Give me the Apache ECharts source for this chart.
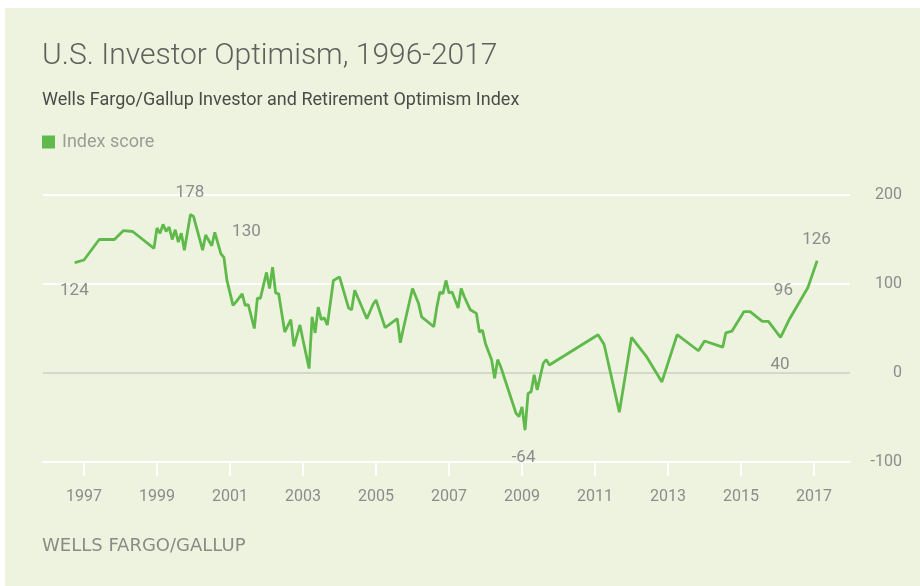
<!DOCTYPE html>
<html>
<head>
<meta charset="utf-8">
<script src="https://cdn.jsdelivr.net/npm/echarts@6/dist/echarts.min.js"></script>
<style>
html,body{margin:0;padding:0;background:#ffffff;}
#wrap{position:absolute;left:0;top:0;width:920px;height:586px;background:#ffffff;}
#chart{position:absolute;left:5px;top:8px;width:915px;height:578px;background:#edf3df;}
</style>
</head>
<body>
<div id="wrap"><div id="chart"></div></div>
<script>
// ---- data ----
var dates = [
 '1996-10','1997-01','1997-06','1997-11','1998-02','1998-05','1998-12',
 '1999-01','1999-02','1999-03','1999-04','1999-05','1999-06','1999-07','1999-08','1999-09','1999-10','1999-12',
 '2000-01','2000-04','2000-05','2000-07','2000-08','2000-10','2000-11','2000-12',
 '2001-02','2001-03','2001-05','2001-06','2001-07','2001-09','2001-10','2001-11',
 '2002-01','2002-02','2002-03','2002-04','2002-05','2002-07','2002-09','2002-10','2002-12',
 '2003-01','2003-03','2003-04','2003-05','2003-06','2003-07','2003-08','2003-09','2003-11',
 '2004-01','2004-04','2004-05','2004-06','2004-10','2004-12',
 '2005-01','2005-04','2005-08','2005-09','2005-10',
 '2006-01','2006-03','2006-04','2006-08','2006-09','2006-10','2006-11','2006-12',
 '2007-01','2007-02','2007-04','2007-05','2007-06','2007-08','2007-10','2007-11','2007-12',
 '2008-01','2008-03','2008-04','2008-05','2008-06','2008-11','2008-12',
 '2009-01','2009-02','2009-03','2009-04','2009-05','2009-06','2009-08','2009-09','2009-10',
 '2011-02','2011-04','2011-09',
 '2012-01','2012-06','2012-11',
 '2013-04','2013-11',
 '2014-01','2014-07','2014-08','2014-10',
 '2015-02','2015-04','2015-08','2015-10',
 '2016-02','2016-05','2016-11',
 '2017-02'
];
var indexScore = [
 124,127,150,150,160,159,140,
 163,157,167,159,164,150,161,147,157,138,178,
 176,138,155,143,158,134,130,104,
 76,80,89,76,77,50,84,84,
 113,95,119,90,89,46,60,30,54,
 37,5,63,45,74,60,62,54,104,
 108,73,71,93,61,77,
 82,51,61,34,50,
 95,78,63,52,74,91,89,104,
 90,91,73,95,86,71,67,46,48,
 33,15,-6,15,7,-45,-49,
 -38,-64,-23,-21,-2,-19,11,15,9,
 43,32,-44,
 40,18,-10,
 43,25,
 36,29,45,47,
 69,69,58,58,
 40,61,96,
 126
];
var labelledDates = ['1996-10','1999-12','2000-11','2009-02','2016-02','2016-11','2017-02'];
var xTickYears = [1997,1999,2001,2003,2005,2007,2009,2011,2013,2015,2017];
var seriesName = 'Index score';

// ---- styling (pixel placement of value labels relative to their point) ----
var labelPlacement = {
 '1996-10': [0, 29],
 '1999-12': [0, -21],
 '2000-11': [23, -25],
 '2009-02': [-1, 28],
 '2016-02': [0, 28],
 '2016-11': [-24, 4],
 '2017-02': [0, -21]
};

function toYear(s){
  var p = s.split('-');
  return parseInt(p[0],10) + (parseInt(p[1],10)-1)/12;
}

var LINE = '#5fba4b';
var FONT = 'Roboto';

var seriesData = dates.map(function(d,i){
  var item = {value:[toYear(d), indexScore[i]]};
  if (labelledDates.indexOf(d) >= 0) {
    var lp = labelPlacement[d];
    item.symbol = 'circle';
    item.symbolSize = 1;
    item.label = {
      show:true, position:[lp[0], lp[1]], align:'center', verticalAlign:'middle',
      formatter:String(indexScore[i]),
      color:'#8c8c8c', fontSize:17, fontFamily:FONT
    };
  }
  return item;
});

var chart = echarts.init(document.getElementById('chart'), null, {renderer:'canvas'});
chart.setOption({
  backgroundColor:'#edf3df',
  animation:false,
  title:[
    {text:'U.S. Investor Optimism, 1996-2017', left:37, top:33, padding:0,
     textStyle:{fontFamily:FONT, fontSize:30, fontWeight:300, color:'#5f625c'}},
    {text:'Wells Fargo/Gallup Investor and Retirement Optimism Index', left:37, top:83, padding:0,
     textStyle:{fontFamily:FONT, fontSize:18, fontWeight:400, color:'#4a4c47'}},
    {text:'WELLS FARGO/GALLUP', left:37, top:529, padding:0,
     textStyle:{fontFamily:'DejaVu Sans', fontSize:18, fontWeight:400, color:'#8a8c86'}}
  ],
  legend:{
    data:[seriesName], left:37, top:125, padding:0, icon:'rect', itemWidth:13, itemHeight:13, itemGap:8,
    textStyle:{fontFamily:FONT, fontSize:18, color:'#9a9c96', padding:[0,0,0,2]}
  },
  grid:{left:38, right:70, top:187, bottom:124},
  xAxis:{
    type:'value', min:1995.877, max:2017.986,
    axisLine:{show:true, onZero:false, lineStyle:{color:'#ffffff', width:2}},
    axisTick:{show:true, customValues:xTickYears, length:14, lineStyle:{color:'#ffffff', width:2}},
    axisLabel:{show:true, customValues:xTickYears, margin:27, color:'#8c8c8c', fontSize:16, fontFamily:FONT,
      formatter:function(v){return String(Math.round(v));}},
    splitLine:{show:false}
  },
  yAxis:{
    type:'value', position:'right', min:-100, max:200, interval:100,
    axisLine:{show:false}, axisTick:{show:false},
    axisLabel:{color:'#8c8c8c', fontSize:16, fontFamily:FONT, align:'right', margin:52},
    splitLine:{show:true, lineStyle:{color:['#ffffff','#d4d8ca','#ffffff','#ffffff'], width:2}}
  },
  series:[{
    name:seriesName, type:'line', data:seriesData,
    showSymbol:true, showAllSymbol:true, symbol:'none', smooth:false,
    lineStyle:{color:LINE, width:2.8},
    itemStyle:{color:LINE},
    labelLayout:{hideOverlap:false}
  }]
});
</script>
</body>
</html>
